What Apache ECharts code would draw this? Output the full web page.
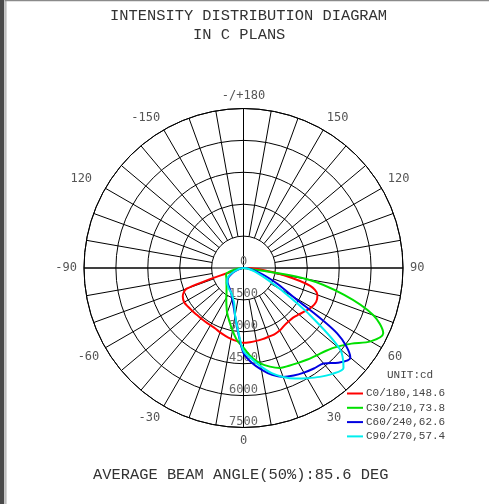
<!DOCTYPE html>
<html><head><meta charset="utf-8">
<script src="https://cdn.jsdelivr.net/npm/echarts@6/dist/echarts.min.js"></script>
<style>html,body{margin:0;padding:0;background:#fff}#c{width:489px;height:504px}</style>
</head><body><div id="c"></div>
<script>
// gamma angles (deg) for each half-plane
const GAMMA = [0,5,10,15,20,25,30,35,40,45,50,55,60,65,70,75,80,85,90];
// intensities (cd)
const C0   = [3520,3500,3480,3460,3440,3440,3400,3320,3290,3300,3400,3540,3690,3770,3700,3250,1900,800,150];
const C180 = [3520,3450,3380,3300,3220,3140,3110,3100,3100,3110,3140,3180,3220,3150,2850,400,150,60,0];
const C30  = [3750,4200,4550,4800,5000,5070,5150,5250,5360,5500,5750,6200,6900,7250,6500,4900,3000,200,0];
const C210 = [3750,3420,2980,2580,2250,1900,1620,1390,1240,1130,1050,980,930,900,870,700,400,150,0];
const C60  = [4000,4470,4850,5200,5450,5580,5680,5770,5860,6300,6560,5400,2700,1750,1100,650,350,150,0];
const C240 = [4000,3000,2280,1830,1560,1350,1230,1150,1090,1040,980,900,780,600,400,250,120,50,0];
const C90  = [3900,4280,4700,5120,5450,5730,5980,6250,6500,6650,5900,3700,2000,1150,700,450,250,100,0];
const C270 = [3900,2950,2270,1700,1480,1330,1250,1200,1130,1070,1000,930,830,650,450,280,150,60,0];

const SERIES_NAMES = ['C0/180,148.6','C30/210,73.8','C60/240,62.6','C90/270,57.4'];
const SERIES_COLORS = ['#ff0000','#00e000','#0000e0','#00eeee'];
const ANGLE_LABELS = ['0','30','60','90','120','150','-/+180','-150','120 ','-90','-60','-30',''];
const RING_TICKS = [0,1500,3000,4500,6000,7500];

function plane(right, left) {
  const d = [];
  for (let i = GAMMA.length - 1; i >= 1; i--) d.push([left[i], 360 - GAMMA[i]]);
  for (let i = 0; i < GAMMA.length; i++) d.push([right[i], GAMMA[i]]);
  return d;
}
const planes = [[C0,C180],[C30,C210],[C60,C240],[C90,C270]];

const CX = 243.5, CY = 268, R = 159.5;
const RMAX = RING_TICKS[RING_TICKS.length-1];
const mono = 'Liberation Mono';
const sans = 'DejaVu Sans Mono';
const tStyle = {fontFamily:mono,fontSize:15.4,fontWeight:'normal',color:'#333'};

const chart = echarts.init(document.getElementById('c'), null, {renderer:'canvas'});
chart.setOption({
  animation: false,
  backgroundColor: '#fff',
  title: [
    {text:'INTENSITY DISTRIBUTION DIAGRAM', left:110, top:8, padding:0, textStyle:tStyle},
    {text:'IN C PLANS', left:193, top:27, padding:0, textStyle:tStyle},
    {text:'AVERAGE BEAM ANGLE(50%):85.6 DEG', left:93, top:467, padding:0, textStyle:tStyle},
    {text:'UNIT:cd', left:387, top:370, padding:0, textStyle:{fontFamily:mono,fontSize:11,fontWeight:'normal',color:'#444'}}
  ],
  legend: {
    orient:'vertical', left:347, top:387, padding:0, itemWidth:16, itemHeight:2, itemGap:1.3,
    icon:'rect',
    data: SERIES_NAMES,
    textStyle:{fontFamily:mono,fontSize:11,color:'#444',lineHeight:13, padding:[0,0,0,-2]}
  },
  graphic: [
    {type:'rect', shape:{x:0,y:0,width:4.3,height:504}, style:{fill:'#4a4a4a'}},
    {type:'rect', shape:{x:4.8,y:0,width:1.8,height:504}, style:{fill:'#bdbdbd'}},
    {type:'rect', shape:{x:4.8,y:0,width:485,height:1.2}, style:{fill:'#8a8a8a'}}
  ],
  polar: [
    {center:[CX,CY], radius:[R*RING_TICKS[1]/RMAX, R]},
    {center:[CX,CY], radius:R},
    {center:[CX,CY], radius:R}
  ],
  angleAxis: [
    {polarIndex:0, type:'value', min:0, max:360, interval:10, startAngle:270, clockwise:false,
     axisLine:{show:false}, axisTick:{show:false}, axisLabel:{show:false},
     splitLine:{show:true, lineStyle:{color:'#000', width:1}}},
    {polarIndex:1, type:'value', min:0, max:360, interval:30, startAngle:270, clockwise:false,
     axisLine:{show:true, lineStyle:{color:'#000', width:1}}, axisTick:{show:false},
     axisLabel:{show:true, margin:7, color:'#555', fontFamily:sans, fontSize:12,
       formatter: v => ANGLE_LABELS[Math.round(v/30)]},
     splitLine:{show:false}},
    {polarIndex:2, type:'value', min:0, max:360, interval:90, startAngle:270, clockwise:false,
     axisLine:{show:false}, axisTick:{show:false}, axisLabel:{show:false},
     splitLine:{show:true, lineStyle:{color:'#000', width:1}}}
  ],
  radiusAxis: [
    {polarIndex:0, show:false, min:0, max:1},
    {polarIndex:1, type:'value', min:0, max:RMAX, interval:RING_TICKS[1],
     axisLine:{show:false}, axisTick:{show:false},
     axisLabel:{show:true, margin:0, align:'center', verticalAlign:'bottom', color:'#666', fontFamily:sans, fontSize:12,
       formatter: v => String(v)},
     splitLine:{show:true, lineStyle:{color:'#000', width:1}}},
    {polarIndex:2, show:false, min:0, max:1}
  ],
  series: planes.map((p, k) => ({
    name: SERIES_NAMES[k], type:'line', coordinateSystem:'polar', polarIndex:1,
    symbol:'none', smooth:0.3, data: plane(p[0], p[1]),
    lineStyle:{color:SERIES_COLORS[k], width:2}, itemStyle:{color:SERIES_COLORS[k]}, z: 5 + k
  }))
});
</script></body></html>
